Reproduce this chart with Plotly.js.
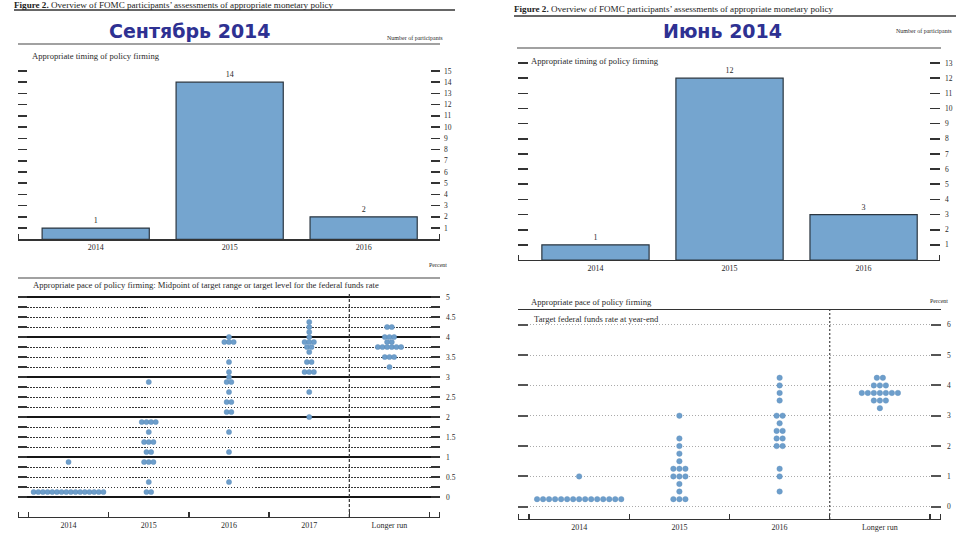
<!DOCTYPE html>
<html>
<head>
<meta charset="utf-8">
<script src="https://cdn.plot.ly/plotly-3.0.1.min.js"></script>
<style>html,body{margin:0;padding:0;background:#fff}#chart{width:968px;height:540px}</style>
</head>
<body>
<div id="chart"></div>
<script>
// ---------- DATA ----------
const barCats = ['2014', '2015', '2016'];
const sepBarCounts = [1, 14, 2];
const junBarCounts = [1, 12, 3];

const sepDotCats = ['2014', '2015', '2016', '2017', 'Longer run'];
const sepRates2014 = [0.125, 0.875];
const sepCounts2014 = [16, 1];
const sepRates2015 = [0.125, 0.375, 0.875, 1.125, 1.375, 1.625, 1.875, 2.875];
const sepCounts2015 = [2, 1, 3, 2, 3, 1, 4, 1];
const sepRates2016 = [0.375, 1.125, 1.625, 2.125, 2.375, 2.625, 2.875, 3.0, 3.125, 3.375, 3.875, 4.0];
const sepCounts2016 = [1, 1, 1, 2, 2, 1, 2, 1, 1, 1, 3, 1];
const sepRates2017 = [2.0, 2.625, 3.125, 3.375, 3.625, 3.75, 3.875, 4.0, 4.125, 4.25, 4.375];
const sepCounts2017 = [1, 1, 3, 2, 1, 2, 3, 1, 1, 1, 1];
const sepRatesLR = [3.25, 3.5, 3.75, 3.875, 4.0, 4.25];
const sepCountsLR = [1, 3, 6, 2, 3, 2];
const sepYTicks = [0, 0.5, 1, 1.5, 2, 2.5, 3, 3.5, 4, 4.5, 5];

const junDotCats = ['2014', '2015', '2016', 'Longer run'];
const junRates2014 = [0.25, 1.0];
const junCounts2014 = [15, 1];
const junRates2015 = [0.25, 0.5, 0.75, 1.0, 1.25, 1.5, 1.75, 2.0, 2.25, 3.0];
const junCounts2015 = [3, 1, 1, 3, 3, 1, 1, 1, 1, 1];
const junRates2016 = [0.5, 1.0, 1.25, 2.0, 2.25, 2.5, 2.75, 3.0, 3.5, 3.75, 4.0, 4.25];
const junCounts2016 = [1, 1, 1, 2, 2, 2, 1, 2, 1, 1, 1, 1];
const junRatesLR = [3.25, 3.5, 3.75, 4.0, 4.25];
const junCountsLR = [1, 3, 7, 3, 2];
const junYTicks = [0, 1, 2, 3, 4, 5, 6];

// ---------- HELPERS ----------
const W = 968, H = 540;
const px = v => v / W;
const py = v => 1 - v / H;

function buildDots(rateLists, countLists, spacing) {
  const xs = [], ys = [];
  rateLists.forEach((rates, ci) => {
    rates.forEach((r, ri) => {
      const n = countLists[ci][ri];
      for (let k = 0; k < n; k++) {
        xs.push(ci + (k - (n - 1) / 2) * spacing);
        ys.push(r);
      }
    });
  });
  return {xs, ys};
}

const sepDots = buildDots(
  [sepRates2014, sepRates2015, sepRates2016, sepRates2017, sepRatesLR],
  [sepCounts2014, sepCounts2015, sepCounts2016, sepCounts2017, sepCountsLR], 0.058);
const junDots = buildDots(
  [junRates2014, junRates2015, junRates2016, junRatesLR],
  [junCounts2014, junCounts2015, junCounts2016, junCountsLR], 0.06);

const serif = 'Liberation Serif, DejaVu Serif, serif';
const dark = '#2a2a2a';
const barFill = '#75a5cf';
const barEdge = '#2b3640';
const dotCol = '#6d9ecb';

const traces = [
  {type: 'bar', x: barCats.map((c, i) => i), y: sepBarCounts, xaxis: 'x', yaxis: 'y', width: 0.8,
   marker: {color: barFill, line: {color: barEdge, width: 1.2}},
   text: sepBarCounts.map(String), textposition: 'outside', cliponaxis: false,
   textfont: {family: serif, size: 8, color: dark}, hoverinfo: 'skip', showlegend: false},
  {type: 'scatter', mode: 'markers', x: sepDots.xs, y: sepDots.ys, xaxis: 'x2', yaxis: 'y2',
   marker: {color: dotCol, size: 5.2, line: {color: '#5585b3', width: 0.4}}, hoverinfo: 'skip', showlegend: false},
  {type: 'scatter', mode: 'markers', x: [], y: [], xaxis: 'x2', yaxis: 'y5', hoverinfo: 'skip', showlegend: false},
  {type: 'bar', x: barCats.map((c, i) => i), y: junBarCounts, xaxis: 'x3', yaxis: 'y3', width: 0.8,
   marker: {color: barFill, line: {color: barEdge, width: 1.2}},
   text: junBarCounts.map(String), textposition: 'outside', cliponaxis: false,
   textfont: {family: serif, size: 8, color: dark}, hoverinfo: 'skip', showlegend: false},
  {type: 'scatter', mode: 'markers', x: junDots.xs, y: junDots.ys, xaxis: 'x4', yaxis: 'y4',
   marker: {color: dotCol, size: 5.5, line: {color: '#5f90bd', width: 0.4}}, hoverinfo: 'skip', showlegend: false}
];

// quarter ticks for September dot chart
const sepQuarterVals = [];
for (let i = 0; i <= 20; i++) sepQuarterVals.push(i * 0.25);
const sepQuarterText = sepQuarterVals.map(v => sepYTicks.includes(v) ? String(v) : '');
const sepIntVals = sepYTicks.filter(v => Number.isInteger(v));

const bottomAxis = (domain, anchor, range, vals, text, minorVals) => ({
  domain, anchor, range, tickvals: vals, ticktext: text, ticks: '',
  showline: true, linecolor: '#333', linewidth: 1.3, showgrid: false, zeroline: false,
  tickfont: {family: serif, size: 8, color: dark}, fixedrange: true,
  minor: {tickvals: minorVals, ticks: 'inside', ticklen: 5, tickwidth: 1.3, tickcolor: '#333', showgrid: false}
});

const sepBarRange = [-0.58, 2.57];
const junBarRange = [-0.578, 2.57];
const sepDotRange = [-0.63, 4.63];
const junDotRange = [-0.61, 3.61];

const layout = {
  width: W, height: H, margin: {l: 0, r: 0, t: 0, b: 0},
  paper_bgcolor: '#fff', plot_bgcolor: 'rgba(0,0,0,0)', showlegend: false,
  font: {family: serif, size: 8, color: dark},
  bargap: 0.2,
  xaxis: bottomAxis([px(18), px(440)], 'y', sepBarRange, [0, 1, 2], barCats,
    [sepBarRange[0] + 0.002, sepBarRange[1] - 0.002]),
  yaxis: {domain: [py(239.3), py(66.5)], anchor: 'x', range: [0, 15.4], side: 'right',
    tickvals: [1,2,3,4,5,6,7,8,9,10,11,12,13,14,15], ticks: 'inside', ticklen: 9, tickwidth: 1.5,
    tickcolor: '#333', mirror: 'ticks', showline: false, showgrid: false, zeroline: false,
    ticklabelstandoff: 3,
    tickfont: {family: serif, size: 7.5, color: dark}, fixedrange: true},
  xaxis2: bottomAxis([px(18), px(440)], 'y2', sepDotRange, sepDotCats.map((c, i) => i), sepDotCats,
    [sepDotRange[0] + 0.002, -0.5, 0.5, 1.5, 2.5, 3.5, 4.5, sepDotRange[1] - 0.002]),
  yaxis2: {domain: [py(517), py(293)], anchor: 'x2', range: [-0.5, 5.1], side: 'right',
    tickvals: sepQuarterVals, ticktext: sepQuarterText, ticks: 'inside', ticklen: 9, tickwidth: 1.3,
    tickcolor: '#333', mirror: 'ticks', showline: false, zeroline: false,
    showgrid: true, gridcolor: '#333', gridwidth: 1, griddash: '1.5px,1.5px',
    ticklabelstandoff: 5,
    tickfont: {family: serif, size: 7.5, color: dark}, fixedrange: true},
  yaxis5: {overlaying: 'y2', anchor: 'x2', range: [-0.5, 5.1], side: 'right',
    tickvals: sepIntVals, showticklabels: false, ticks: '', showline: false, zeroline: false,
    showgrid: true, gridcolor: '#151515', gridwidth: 1.8, fixedrange: true},
  xaxis3: bottomAxis([px(518), px(940)], 'y3', junBarRange, [0, 1, 2], barCats,
    [junBarRange[0] + 0.002, junBarRange[1] - 0.002]),
  yaxis3: {domain: [py(260), py(57)], anchor: 'x3', range: [0, 13.4], side: 'right',
    tickvals: [1,2,3,4,5,6,7,8,9,10,11,12,13], ticks: 'inside', ticklen: 10, tickwidth: 1.6,
    tickcolor: '#333', mirror: 'ticks', showline: false, showgrid: false, zeroline: false,
    ticklabelstandoff: 4,
    tickfont: {family: serif, size: 7.5, color: dark}, fixedrange: true},
  xaxis4: Object.assign(bottomAxis([px(518), px(941)], 'y4', junDotRange, junDotCats.map((c, i) => i), junDotCats,
    [junDotRange[0] + 0.002, -0.5, 0.5, 1.5, 2.5, 3.5, junDotRange[1] - 0.002]), {mirror: true}),
  yaxis4: {domain: [py(519), py(310)], anchor: 'x4', range: [-0.405, 6.485], side: 'right',
    tickvals: junYTicks, ticks: 'inside', ticklen: 10, tickwidth: 2, tickcolor: '#555',
    mirror: 'ticks', showline: false, zeroline: false,
    showgrid: true, gridcolor: '#aaaaaa', gridwidth: 1, griddash: '1px,2px',
    ticklabelstandoff: 5,
    tickfont: {family: serif, size: 7.5, color: dark}, fixedrange: true},
  shapes: [
    {type: 'line', xref: 'x2', yref: 'y2 domain', x0: sepDotCats.length - 1.5, x1: sepDotCats.length - 1.5,
     y0: 0, y1: 1, line: {color: '#333', width: 1.2, dash: '3px,2px'}},
    {type: 'line', xref: 'x4', yref: 'y4 domain', x0: junDotCats.length - 1.5, x1: junDotCats.length - 1.5,
     y0: 0, y1: 1, line: {color: '#444', width: 1.2, dash: '2px,2px'}},
    {type: 'line', xref: 'paper', yref: 'paper', x0: px(14), x1: px(455), y0: py(10), y1: py(10), line: {color: '#333', width: 1.5}},
    {type: 'line', xref: 'paper', yref: 'paper', x0: px(18), x1: px(440), y0: py(44), y1: py(44), line: {color: '#444', width: 1.2}},
    {type: 'line', xref: 'paper', yref: 'paper', x0: px(18), x1: px(440), y0: py(278), y1: py(278), line: {color: '#444', width: 1.2}},
    {type: 'line', xref: 'paper', yref: 'paper', x0: px(514), x1: px(956), y0: py(16), y1: py(16), line: {color: '#333', width: 1.5}},
    {type: 'line', xref: 'paper', yref: 'paper', x0: px(517), x1: px(941), y0: py(48), y1: py(48), line: {color: '#444', width: 1.2}}
  ],
  annotations: []
};

function note(text, x, y, opts) {
  layout.annotations.push(Object.assign({
    text, x: px(x), y: py(y), xref: 'paper', yref: 'paper', showarrow: false,
    xanchor: 'left', yanchor: 'middle', font: {family: serif, size: 8.6, color: dark}
  }, opts || {}));
}

const figTitle = '<b>Figure 2.</b> Overview of FOMC participants\u2019 assessments of appropriate monetary policy';
note(figTitle, 12, 5, {font: {family: serif, size: 9.1, color: '#222'}});
note(figTitle, 512, 9, {font: {family: serif, size: 9.1, color: '#222'}});
note('<b>Сентябрь 2014</b>', 190, 31, {xanchor: 'center', font: {family: 'DejaVu Sans, sans-serif', size: 19, color: '#2e3192'}});
note('<b>Июнь 2014</b>', 722, 31, {xanchor: 'center', font: {family: 'DejaVu Sans, sans-serif', size: 19, color: '#2e3192'}});
note('Number of participants', 445, 38, {xanchor: 'right', font: {family: serif, size: 6, color: dark}});
note('Number of participants', 954, 31, {xanchor: 'right', font: {family: serif, size: 6, color: dark}});
note('Appropriate timing of policy firming', 30, 56);
note('Appropriate timing of policy firming', 529, 61);
note('Percent', 449, 265, {xanchor: 'right', font: {family: serif, size: 6, color: dark}});
note('Percent', 950, 301, {xanchor: 'right', font: {family: serif, size: 6, color: dark}});
note('Appropriate pace of policy firming: Midpoint of target range or target level for the federal funds rate', 31, 285);
note('Appropriate pace of policy firming', 529, 302);
note('Target federal funds rate at year-end', 532, 319);

Plotly.newPlot('chart', traces, layout, {staticPlot: true, displayModeBar: false});
</script>
</body>
</html>
